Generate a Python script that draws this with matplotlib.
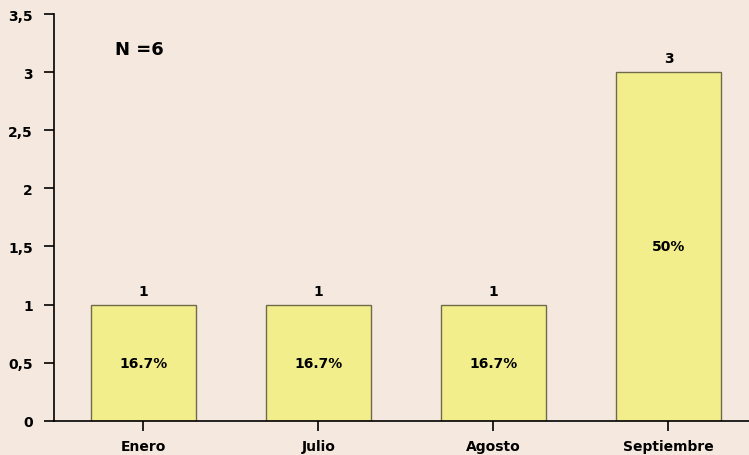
import matplotlib
matplotlib.use("Agg")
import matplotlib.pyplot as plt
from matplotlib.ticker import FuncFormatter

months = ["Enero", "Julio", "Agosto", "Septiembre"]
counts = [1, 1, 1, 3]
pcts = ["16.7%", "16.7%", "16.7%", "50%"]
n_total = 6

BG = "#F5E9DF"
BAR = "#F2EE8C"
EDGE = "#6E6A4A"

plt.rcParams["font.family"] = ["DejaVu Sans"]
plt.rcParams["font.weight"] = "bold"

fig = plt.figure(figsize=(7.49, 4.56), dpi=100, facecolor=BG)
ax = fig.add_axes([0.072, 0.075, 0.928, 0.892], facecolor=BG)

x = list(range(len(months)))
ax.bar(x, counts, width=0.6, color=BAR, edgecolor=EDGE, linewidth=1.0, zorder=2)

for xi, c, p in zip(x, counts, pcts):
    ax.annotate(str(c), (xi, c), xytext=(0, 5), textcoords="offset points",
                ha="center", va="bottom", fontsize=10, fontweight="bold")
    ax.text(xi, c / 2, p, ha="center", va="center", fontsize=10, fontweight="bold")

ax.text(0.088, 0.914, f"N ={n_total}", transform=ax.transAxes, ha="left", va="center",
        fontsize=13, fontweight="bold")

ax.set_xlim(-0.51, 3.46)
ax.set_ylim(0, 3.5)
ax.set_yticks([0, 0.5, 1, 1.5, 2, 2.5, 3, 3.5])
ax.yaxis.set_major_formatter(FuncFormatter(lambda v, _: f"{v:g}".replace(".", ",")))
ax.set_xticks(x)
ax.set_xticklabels(months)

for s in ["top", "right"]:
    ax.spines[s].set_visible(False)
for s in ["left", "bottom"]:
    ax.spines[s].set_linewidth(1.2)
    ax.spines[s].set_color("black")
ax.tick_params(axis="y", direction="out", length=7, width=1.2, labelsize=10, pad=8)
ax.tick_params(axis="x", direction="out", length=7, width=1.2, labelsize=10, pad=6)
for lbl in ax.get_xticklabels() + ax.get_yticklabels():
    lbl.set_fontweight("bold")

fig.savefig("out.png", dpi=100, facecolor=BG)
